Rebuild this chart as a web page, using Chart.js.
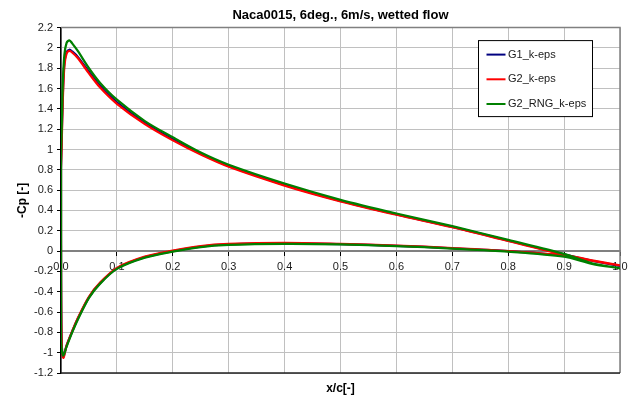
<!DOCTYPE html>
<html>
<head>
<meta charset="utf-8">
<title>Naca0015 -Cp</title>
<script src="https://cdn.jsdelivr.net/npm/chart.js@4.4.0/dist/chart.umd.min.js"></script>
<style>
  html, body { margin: 0; padding: 0; background: #fff; }
  #wrap { width: 638px; height: 396px; }
</style>
</head>
<body>
<div id="wrap"><canvas id="cp-chart"></canvas></div>
<script>
// chord positions, suction side runs trailing edge -> leading edge
const xUpper = [1.0, 0.95, 0.9, 0.8, 0.7, 0.6, 0.5, 0.4, 0.3, 0.25, 0.2, 0.15, 0.1, 0.07, 0.05, 0.03, 0.02, 0.015, 0.01, 0.006, 0.003, 0.001, 0];
// pressure side runs leading edge -> trailing edge
const xLower = [0, 0.001, 0.004, 0.01, 0.02, 0.03, 0.05, 0.07, 0.1, 0.15, 0.2, 0.25, 0.3, 0.4, 0.5, 0.6, 0.7, 0.8, 0.9, 0.95, 1.0];

const g1Upper = [-0.145, -0.095, -0.032, 0.103, 0.238, 0.362, 0.495, 0.652, 0.838, 0.958, 1.10, 1.262, 1.465, 1.625, 1.765, 1.912, 1.965, 1.982, 1.958, 1.85, 1.5, 1.05, 0.8];
const g2Upper = [-0.14, -0.09, -0.035, 0.10, 0.235, 0.358, 0.49, 0.645, 0.83, 0.95, 1.09, 1.25, 1.45, 1.61, 1.75, 1.90, 1.955, 1.97, 1.945, 1.82, 1.45, 1.0, 0.8];
const rngUpper = [-0.17, -0.12, -0.028, 0.11, 0.245, 0.37, 0.505, 0.665, 0.85, 0.97, 1.12, 1.28, 1.49, 1.655, 1.80, 1.97, 2.045, 2.075, 2.05, 1.93, 1.62, 1.15, 0.95];

const g1Lower = [0.25, -0.85, -1.04, -0.93, -0.79, -0.665, -0.455, -0.315, -0.17, -0.06, 0.0, 0.045, 0.065, 0.075, 0.068, 0.052, 0.028, 0.0, -0.045, -0.095, -0.145];
const g2Lower = [0.2, -0.85, -1.05, -0.93, -0.79, -0.66, -0.45, -0.31, -0.165, -0.055, 0.005, 0.05, 0.07, 0.08, 0.07, 0.055, 0.03, 0.0, -0.045, -0.095, -0.14];
const rngLower = [-0.85, -0.95, -1.03, -0.94, -0.80, -0.675, -0.46, -0.32, -0.175, -0.065, -0.005, 0.04, 0.06, 0.07, 0.065, 0.05, 0.025, -0.005, -0.055, -0.125, -0.17];

const seriesNames = ['G1_k-eps', 'G2_k-eps', 'G2_RNG_k-eps'];
const seriesColors = ['#000080', '#ff0000', '#008000'];

const FONT = "'Liberation Sans', Arial, sans-serif";

// one closed-ish contour per model: upper surface then lower surface
function contour(upper, lower) {
  const pts = xUpper.map((x, i) => ({ x, y: upper[i] }));
  return pts.concat(xLower.map((x, i) => ({ x, y: lower[i] })));
}

const frame = {
  id: 'frame',
  beforeDatasetsDraw(chart) {
    const { ctx, chartArea: a } = chart;
    ctx.save();
    ctx.lineWidth = 1.5;
    ctx.strokeStyle = '#808080';
    ctx.beginPath();
    ctx.moveTo(a.left, a.top);
    ctx.lineTo(a.right, a.top);
    ctx.lineTo(a.right, a.bottom);
    ctx.stroke();
    ctx.strokeStyle = '#202020';
    ctx.beginPath();
    ctx.moveTo(a.left, a.bottom);
    ctx.lineTo(a.right, a.bottom);
    ctx.stroke();
    ctx.restore();
  }
};

const boxLegend = {
  id: 'boxLegend',
  afterDraw(chart) {
    const { ctx, chartArea: a } = chart;
    const w = 114, h = 76;
    const left = a.right - 142, top = a.top + 12.5;
    ctx.save();
    ctx.fillStyle = '#fff';
    ctx.fillRect(left, top, w, h);
    ctx.strokeStyle = '#000';
    ctx.lineWidth = 1;
    ctx.strokeRect(left + 0.5, top + 0.5, w, h);
    ctx.font = '11px ' + FONT;
    ctx.textBaseline = 'middle';
    chart.data.datasets.forEach((ds, i) => {
      const y = top + 14.5 + i * 24.7;
      ctx.strokeStyle = ds.borderColor;
      ctx.lineWidth = 2;
      ctx.beginPath();
      ctx.moveTo(left + 8.5, y);
      ctx.lineTo(left + 27.5, y);
      ctx.stroke();
      ctx.fillStyle = '#1a1a1a';
      ctx.fillText(ds.label, left + 30, y);
    });
    ctx.restore();
  }
};

const datasets = [
  { label: seriesNames[0], data: contour(g1Upper, g1Lower), borderColor: seriesColors[0], order: 2 },
  { label: seriesNames[1], data: contour(g2Upper, g2Lower), borderColor: seriesColors[1], order: 1 },
  { label: seriesNames[2], data: contour(rngUpper, rngLower), borderColor: seriesColors[2], order: 0 }
].map(d => Object.assign(d, { showLine: true, pointRadius: 0, borderWidth: 2.25, tension: 0.3, fill: false }));

new Chart(document.getElementById('cp-chart'), {
  type: 'scatter',
  data: { datasets },
  plugins: [frame, boxLegend],
  options: {
    responsive: true,
    maintainAspectRatio: false,
    animation: false,
    layout: { padding: { left: 0, right: 18, top: 0, bottom: 0 } },
    plugins: {
      legend: { display: false },
      tooltip: { enabled: false },
      title: {
        display: true,
        fullSize: false,
        text: 'Naca0015, 6deg., 6m/s, wetted flow',
        color: '#000',
        font: { family: FONT, size: 13, weight: 'bold' },
        padding: { top: 8, bottom: 4 }
      }
    },
    scales: {
      x: {
        type: 'linear',
        axis: 'x',
        position: { y: 0 },
        min: 0,
        max: 1,
        afterFit: s => { s.height = 0; },
        grid: { color: '#c0c0c0', lineWidth: 1, tickLength: 4, tickColor: '#000' },
        border: { color: '#808080', width: 2 },
        ticks: {
          stepSize: 0.1,
          padding: 5,
          maxRotation: 0,
          color: '#1a1a1a',
          font: { family: FONT, size: 11 },
          callback: v => v.toFixed(1)
        }
      },
      xt: {
        type: 'linear',
        axis: 'x',
        position: 'bottom',
        min: 0,
        max: 1,
        afterFit: s => { s.height = 23; },
        grid: { display: false },
        border: { display: false },
        ticks: { display: false },
        title: {
          display: true,
          text: 'x/c[-]',
          color: '#000',
          font: { family: FONT, size: 12, weight: 'bold' },
          padding: { top: 0, bottom: 0 }
        }
      },
      y: {
        type: 'linear',
        position: 'left',
        min: -1.2,
        max: 2.2,
        afterFit: s => { s.width = 61; },
        grid: { color: '#c0c0c0', lineWidth: 1, tickLength: 4, tickColor: '#000' },
        border: { color: '#000', width: 1.5 },
        ticks: {
          stepSize: 0.2,
          padding: 4,
          color: '#1a1a1a',
          font: { family: FONT, size: 11 },
          callback: v => String(Math.round(v * 10) / 10)
        },
        title: {
          display: true,
          text: '-Cp [-]',
          color: '#000',
          font: { family: FONT, size: 12, weight: 'bold' },
          padding: { top: 15, bottom: 15 }
        }
      }
    }
  }
});
</script>
</body>
</html>
